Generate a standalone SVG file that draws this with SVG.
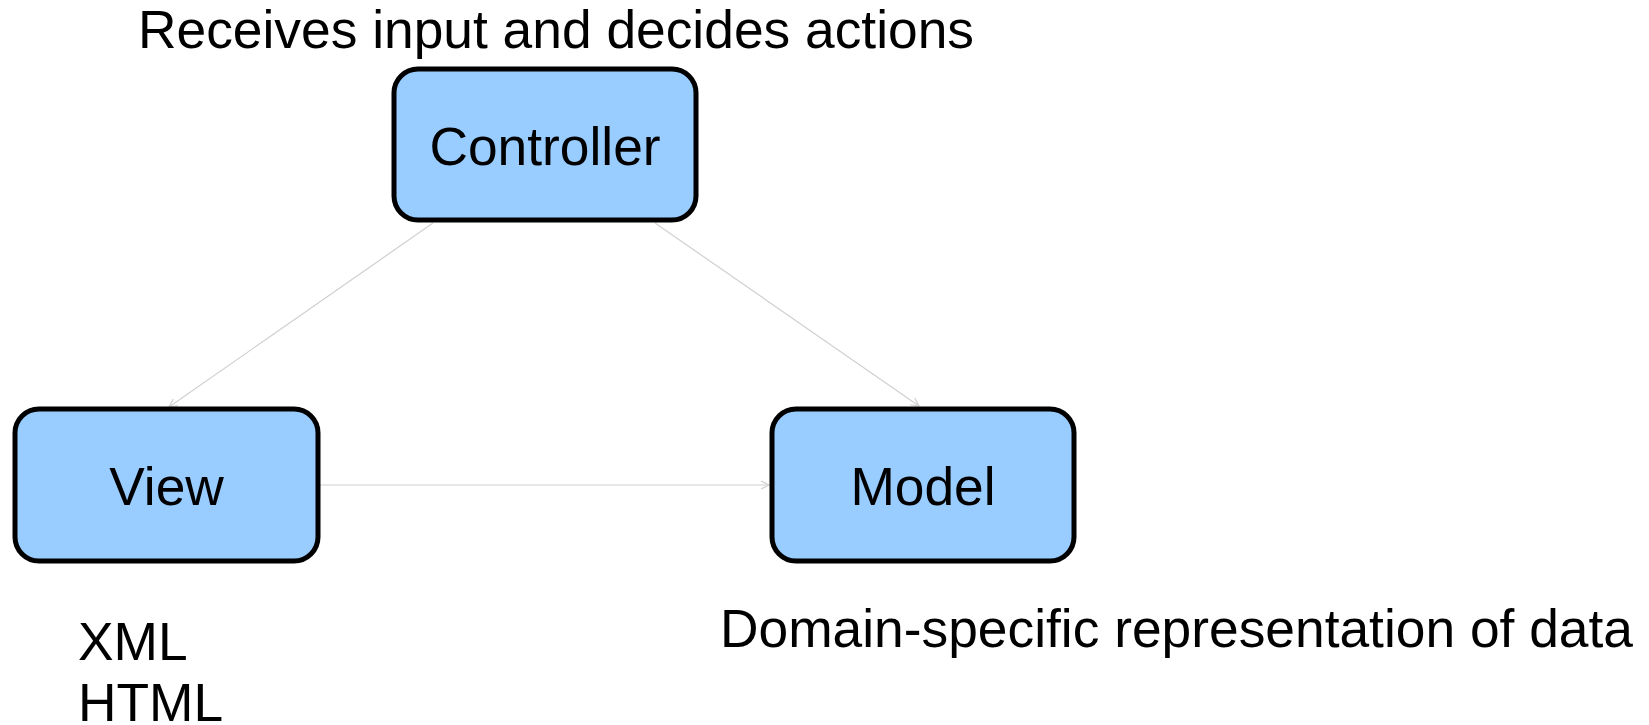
<svg xmlns="http://www.w3.org/2000/svg" width="1649" height="725" viewBox="0 0 1649 725">
  <style>
    .box { fill: #99ccff; stroke: #000000; stroke-width: 5; }
    .label { font-family: "Liberation Sans", Arial, sans-serif; font-size: 53.33px; fill: #000000; }
    .mid { text-anchor: middle; }
    .edge { stroke: #d0d0d0; stroke-width: 1.2; fill: none; marker-end: url(#open-arrow); }
  </style>
  <defs>
    <marker id="open-arrow" markerUnits="userSpaceOnUse" markerWidth="12" markerHeight="12" refX="9" refY="5" orient="auto">
      <path d="M1,1 L9,5 L1,9" fill="none" stroke="#d0d0d0" stroke-width="1.2"/>
    </marker>
  </defs>
  <rect width="1649" height="725" fill="#ffffff"/>

  <!-- connectors -->
  <g id="connectors">
    <line class="edge" x1="433" y1="223" x2="169" y2="407"/>
    <line class="edge" x1="655" y1="223" x2="919" y2="406"/>
    <line class="edge" x1="320" y1="485" x2="769" y2="485"/>
  </g>

  <!-- nodes -->
  <g id="controller">
    <rect class="box" x="394" y="69" width="302" height="151" rx="24" ry="24"/>
    <text class="label mid" x="545" y="165">Controller</text>
  </g>
  <g id="view">
    <rect class="box" x="15" y="409" width="303" height="152" rx="24" ry="24"/>
    <text class="label mid" x="166.5" y="505">View</text>
  </g>
  <g id="model">
    <rect class="box" x="772" y="409" width="302" height="152" rx="24" ry="24"/>
    <text class="label mid" x="923" y="505">Model</text>
  </g>

  <!-- annotations -->
  <g id="notes">
    <text class="label" x="138" y="48">Receives input and decides actions</text>
    <text class="label" x="720" y="647">Domain-specific representation of data</text>
    <text class="label" x="78" y="660">XML</text>
    <text class="label" x="78" y="721">HTML</text>
  </g>
</svg>
